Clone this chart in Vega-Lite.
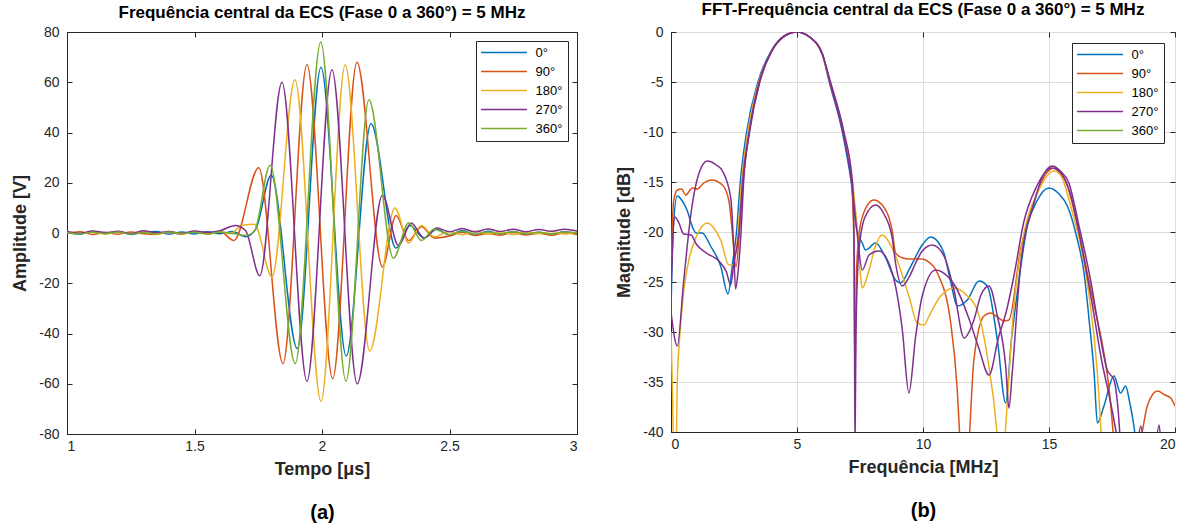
{
"$schema":"https://vega.github.io/schema/vega-lite/v6.json",
"background":"white",
"padding":{"left":11,"top":0,"right":10,"bottom":4},
"spacing":37,
"config":{
 "font":"Liberation Sans",
 "view":{"stroke":"#262626","strokeWidth":1},
 "axis":{"domainColor":"#262626","tickColor":"#262626","labelColor":"#262626","titleColor":"#262626","labelFontSize":14,"titleFontSize":18,"titleFontWeight":"bold","grid":false,"tickSize":-5,"labelPadding":13,"titlePadding":9,"domainWidth":1},
 "axisX":{"labelPadding":10,"titlePadding":7},
 "title":{"fontSize":17,"fontWeight":"bold","color":"#000000"},
 "legend":{"fillColor":"white","strokeColor":"#262626","padding":5,"symbolType":"M-4,0H4","symbolSize":132,"symbolOffset":16.5,"symbolStrokeWidth":1.5,"labelFontSize":13,"labelOffset":25,"labelAlign":"left","rowPadding":5,"labelColor":"#000000","orient":"top-right"}
},
"resolve":{"scale":{"color":"independent"},"legend":{"color":"independent"}},
"datasets":{
"a":[
{"s":"0°","t":1,"v":0.4},{"s":"0°","t":1.05,"v":-0.5},{"s":"0°","t":1.1,"v":0.6},{"s":"0°","t":1.15,"v":-0.3},{"s":"0°","t":1.2,"v":0.5},{"s":"0°","t":1.25,"v":-0.6},{"s":"0°","t":1.3,"v":0.3},{"s":"0°","t":1.35,"v":0.6},{"s":"0°","t":1.4,"v":-0.5},{"s":"0°","t":1.45,"v":0.4},{"s":"0°","t":1.5,"v":-0.4},{"s":"0°","t":1.55,"v":0.5},{"s":"0°","t":1.6,"v":-0.3},{"s":"0°","t":1.65,"v":0.6},{"s":"0°","t":1.7,"v":-1.5},{"s":"0°","t":1.74,"v":1.5},{"s":"0°","t":1.801,"v":23},{"s":"0°","t":1.903,"v":-46},{"s":"0°","t":1.996,"v":66},{"s":"0°","t":2.095,"v":-49},{"s":"0°","t":2.192,"v":43.5},{"s":"0°","t":2.29,"v":-6},{"s":"0°","t":2.345,"v":3},{"s":"0°","t":2.4,"v":-2},{"s":"0°","t":2.45,"v":1.5},{"s":"0°","t":2.5,"v":-0.8},{"s":"0°","t":2.55,"v":1},{"s":"0°","t":2.6,"v":-0.6},{"s":"0°","t":2.65,"v":0.7},{"s":"0°","t":2.7,"v":-0.4},{"s":"0°","t":2.75,"v":0.6},{"s":"0°","t":2.8,"v":-0.5},{"s":"0°","t":2.85,"v":0.3},{"s":"0°","t":2.9,"v":-0.4},{"s":"0°","t":2.95,"v":0.5},{"s":"0°","t":3,"v":-0.2},
{"s":"90°","t":1,"v":-0.3},{"s":"90°","t":1.05,"v":0.5},{"s":"90°","t":1.1,"v":-0.6},{"s":"90°","t":1.15,"v":0.2},{"s":"90°","t":1.2,"v":-0.5},{"s":"90°","t":1.25,"v":0.4},{"s":"90°","t":1.3,"v":-0.3},{"s":"90°","t":1.35,"v":-0.6},{"s":"90°","t":1.4,"v":0.3},{"s":"90°","t":1.45,"v":-0.5},{"s":"90°","t":1.5,"v":0.6},{"s":"90°","t":1.55,"v":-0.3},{"s":"90°","t":1.6,"v":0.5},{"s":"90°","t":1.655,"v":-3},{"s":"90°","t":1.752,"v":26},{"s":"90°","t":1.847,"v":-52},{"s":"90°","t":1.941,"v":67},{"s":"90°","t":2.042,"v":-58},{"s":"90°","t":2.137,"v":68},{"s":"90°","t":2.237,"v":-13.5},{"s":"90°","t":2.29,"v":7},{"s":"90°","t":2.34,"v":-3},{"s":"90°","t":2.39,"v":2.5},{"s":"90°","t":2.44,"v":-2},{"s":"90°","t":2.5,"v":-1.2},{"s":"90°","t":2.55,"v":0.3},{"s":"90°","t":2.6,"v":-1},{"s":"90°","t":2.65,"v":-0.2},{"s":"90°","t":2.7,"v":-0.9},{"s":"90°","t":2.75,"v":0.2},{"s":"90°","t":2.8,"v":-0.8},{"s":"90°","t":2.85,"v":-0.1},{"s":"90°","t":2.9,"v":-0.9},{"s":"90°","t":2.95,"v":0.1},{"s":"90°","t":3,"v":-0.6},
{"s":"180°","t":1,"v":0.5},{"s":"180°","t":1.05,"v":-0.2},{"s":"180°","t":1.1,"v":0.4},{"s":"180°","t":1.15,"v":-0.5},{"s":"180°","t":1.2,"v":0.6},{"s":"180°","t":1.25,"v":-0.1},{"s":"180°","t":1.3,"v":0.5},{"s":"180°","t":1.35,"v":-0.4},{"s":"180°","t":1.4,"v":0.6},{"s":"180°","t":1.45,"v":-0.3},{"s":"180°","t":1.5,"v":0.4},{"s":"180°","t":1.55,"v":-0.5},{"s":"180°","t":1.6,"v":0.5},{"s":"180°","t":1.64,"v":-0.3},{"s":"180°","t":1.686,"v":3},{"s":"180°","t":1.735,"v":3.5},{"s":"180°","t":1.804,"v":-17.5},{"s":"180°","t":1.894,"v":61},{"s":"180°","t":1.996,"v":-67},{"s":"180°","t":2.091,"v":67},{"s":"180°","t":2.187,"v":-47},{"s":"180°","t":2.286,"v":10},{"s":"180°","t":2.34,"v":-4},{"s":"180°","t":2.39,"v":3},{"s":"180°","t":2.44,"v":-1.5},{"s":"180°","t":2.5,"v":0.6},{"s":"180°","t":2.55,"v":-0.7},{"s":"180°","t":2.6,"v":0.8},{"s":"180°","t":2.65,"v":-0.4},{"s":"180°","t":2.7,"v":0.5},{"s":"180°","t":2.75,"v":-0.6},{"s":"180°","t":2.8,"v":0.4},{"s":"180°","t":2.85,"v":-0.3},{"s":"180°","t":2.9,"v":0.6},{"s":"180°","t":2.95,"v":-0.4},{"s":"180°","t":3,"v":0.3},
{"s":"270°","t":1,"v":0.6},{"s":"270°","t":1.05,"v":-0.1},{"s":"270°","t":1.1,"v":0.8},{"s":"270°","t":1.15,"v":0.2},{"s":"270°","t":1.2,"v":0.7},{"s":"270°","t":1.25,"v":-0.2},{"s":"270°","t":1.3,"v":0.9},{"s":"270°","t":1.35,"v":0.1},{"s":"270°","t":1.4,"v":0.6},{"s":"270°","t":1.45,"v":-0.1},{"s":"270°","t":1.5,"v":0.8},{"s":"270°","t":1.55,"v":0.2},{"s":"270°","t":1.6,"v":0.9},{"s":"270°","t":1.66,"v":3},{"s":"270°","t":1.7,"v":1},{"s":"270°","t":1.756,"v":-17},{"s":"270°","t":1.843,"v":60},{"s":"270°","t":1.941,"v":-59},{"s":"270°","t":2.039,"v":65},{"s":"270°","t":2.138,"v":-60},{"s":"270°","t":2.237,"v":15},{"s":"270°","t":2.3,"v":-5},{"s":"270°","t":2.35,"v":4},{"s":"270°","t":2.4,"v":-2},{"s":"270°","t":2.45,"v":2},{"s":"270°","t":2.5,"v":0.5},{"s":"270°","t":2.55,"v":1.8},{"s":"270°","t":2.6,"v":0.4},{"s":"270°","t":2.65,"v":1.6},{"s":"270°","t":2.7,"v":0.6},{"s":"270°","t":2.75,"v":1.5},{"s":"270°","t":2.8,"v":0.5},{"s":"270°","t":2.85,"v":1.4},{"s":"270°","t":2.9,"v":0.7},{"s":"270°","t":2.95,"v":1.5},{"s":"270°","t":3,"v":0.8},
{"s":"360°","t":1,"v":0.2},{"s":"360°","t":1.05,"v":-0.4},{"s":"360°","t":1.1,"v":0.3},{"s":"360°","t":1.15,"v":-0.2},{"s":"360°","t":1.2,"v":0.4},{"s":"360°","t":1.25,"v":-0.5},{"s":"360°","t":1.3,"v":0.2},{"s":"360°","t":1.35,"v":-0.3},{"s":"360°","t":1.4,"v":0.4},{"s":"360°","t":1.45,"v":-0.2},{"s":"360°","t":1.5,"v":0.3},{"s":"360°","t":1.55,"v":-0.4},{"s":"360°","t":1.6,"v":0.4},{"s":"360°","t":1.65,"v":-0.2},{"s":"360°","t":1.7,"v":-1},{"s":"360°","t":1.735,"v":0.8},{"s":"360°","t":1.797,"v":27},{"s":"360°","t":1.895,"v":-52},{"s":"360°","t":1.995,"v":76},{"s":"360°","t":2.094,"v":-59},{"s":"360°","t":2.184,"v":53},{"s":"360°","t":2.28,"v":-10},{"s":"360°","t":2.34,"v":4},{"s":"360°","t":2.39,"v":-3},{"s":"360°","t":2.44,"v":1.5},{"s":"360°","t":2.5,"v":-0.6},{"s":"360°","t":2.55,"v":0.7},{"s":"360°","t":2.6,"v":-0.5},{"s":"360°","t":2.65,"v":0.4},{"s":"360°","t":2.7,"v":-0.3},{"s":"360°","t":2.75,"v":0.5},{"s":"360°","t":2.8,"v":-0.4},{"s":"360°","t":2.85,"v":0.3},{"s":"360°","t":2.9,"v":-0.5},{"s":"360°","t":2.95,"v":0.4},{"s":"360°","t":3,"v":0}
],
"b":[
{"s":"0°","k":"a","f":0,"d":-28},{"s":"0°","k":"a","f":0.08,"d":-20},{"s":"0°","k":"a","f":0.25,"d":-16.4},{"s":"0°","k":"a","f":0.45,"d":-16.9},{"s":"0°","k":"a","f":0.65,"d":-17.9},{"s":"0°","k":"a","f":0.85,"d":-19.5},{"s":"0°","k":"a","f":1,"d":-20.1},{"s":"0°","k":"a","f":1.24,"d":-20.1},{"s":"0°","k":"a","f":1.57,"d":-21.4},{"s":"0°","k":"a","f":1.97,"d":-23.4},{"s":"0°","k":"a","f":2.26,"d":-26.2},{"s":"0°","k":"a","f":2.45,"d":-23},{"s":"0°","k":"a","f":2.6,"d":-20},{"s":"0°","k":"a","f":2.75,"d":-15},{"s":"0°","k":"a","f":3,"d":-10},{"s":"0°","k":"a","f":3.45,"d":-5},{"s":"0°","k":"a","f":4,"d":-1.8},{"s":"0°","k":"a","f":4.5,"d":-0.4},{"s":"0°","k":"a","f":5,"d":0},{"s":"0°","k":"a","f":5.5,"d":-0.5},{"s":"0°","k":"a","f":6,"d":-2.2},{"s":"0°","k":"a","f":6.28,"d":-5},{"s":"0°","k":"a","f":6.8,"d":-10},{"s":"0°","k":"a","f":7.15,"d":-15},{"s":"0°","k":"a","f":7.38,"d":-19.8},{"s":"0°","k":"a","f":7.59,"d":-21.1},{"s":"0°","k":"a","f":7.72,"d":-21.8},{"s":"0°","k":"a","f":8.12,"d":-21.1},{"s":"0°","k":"a","f":8.5,"d":-22.5},{"s":"0°","k":"a","f":8.91,"d":-24.8},{"s":"0°","k":"a","f":9.11,"d":-25.1},{"s":"0°","k":"a","f":9.5,"d":-23.5},{"s":"0°","k":"a","f":9.97,"d":-21.3},{"s":"0°","k":"a","f":10.3,"d":-20.5},{"s":"0°","k":"a","f":10.6,"d":-21},{"s":"0°","k":"a","f":10.83,"d":-22.1},{"s":"0°","k":"a","f":11.1,"d":-25},{"s":"0°","k":"a","f":11.36,"d":-27.4},{"s":"0°","k":"a","f":11.76,"d":-26.8},{"s":"0°","k":"a","f":12.22,"d":-24.9},{"s":"0°","k":"a","f":12.55,"d":-25.4},{"s":"0°","k":"a","f":12.95,"d":-30.8},{"s":"0°","k":"a","f":13.28,"d":-37.1},{"s":"0°","k":"a","f":13.5,"d":-31},{"s":"0°","k":"a","f":13.74,"d":-26.1},{"s":"0°","k":"a","f":14.14,"d":-19.4},{"s":"0°","k":"a","f":14.5,"d":-17},{"s":"0°","k":"a","f":15,"d":-15.6},{"s":"0°","k":"a","f":15.4,"d":-16.2},{"s":"0°","k":"a","f":15.73,"d":-17.4},{"s":"0°","k":"a","f":16.1,"d":-20.5},{"s":"0°","k":"a","f":16.39,"d":-24.1},{"s":"0°","k":"a","f":16.6,"d":-29},{"s":"0°","k":"a","f":16.79,"d":-34.1},{"s":"0°","k":"a","f":16.92,"d":-39.1},{"s":"0°","k":"a","f":17.18,"d":-37.4},{"s":"0°","k":"a","f":17.58,"d":-34.4},{"s":"0°","k":"a","f":17.84,"d":-36.1},{"s":"0°","k":"a","f":18.04,"d":-35.4},{"s":"0°","k":"a","f":18.2,"d":-37},{"s":"0°","k":"a","f":18.37,"d":-39.4},{"s":"0°","k":"a","f":18.55,"d":-43},{"s":"0°","k":"a","f":18.8,"d":-41},{"s":"0°","k":"a","f":19,"d":-40.5},{"s":"0°","k":"a","f":19.2,"d":-44},{"s":"0°","k":"a","f":20,"d":-46},
{"s":"90°","k":"a","f":0,"d":-24},{"s":"90°","k":"a","f":0.1,"d":-17},{"s":"90°","k":"a","f":0.25,"d":-15.8},{"s":"90°","k":"a","f":0.42,"d":-15.7},{"s":"90°","k":"a","f":0.58,"d":-16.3},{"s":"90°","k":"a","f":0.85,"d":-15.6},{"s":"90°","k":"a","f":1.04,"d":-15.7},{"s":"90°","k":"a","f":1.3,"d":-15.1},{"s":"90°","k":"a","f":1.61,"d":-14.8},{"s":"90°","k":"a","f":2.04,"d":-15.3},{"s":"90°","k":"a","f":2.3,"d":-16.9},{"s":"90°","k":"a","f":2.45,"d":-20.5},{"s":"90°","k":"a","f":2.58,"d":-23.5},{"s":"90°","k":"a","f":2.74,"d":-19},{"s":"90°","k":"a","f":2.86,"d":-15},{"s":"90°","k":"a","f":3.1,"d":-10},{"s":"90°","k":"a","f":3.52,"d":-5},{"s":"90°","k":"a","f":4,"d":-1.9},{"s":"90°","k":"a","f":4.5,"d":-0.4},{"s":"90°","k":"a","f":5,"d":0},{"s":"90°","k":"a","f":5.5,"d":-0.5},{"s":"90°","k":"a","f":6,"d":-2.2},{"s":"90°","k":"a","f":6.3,"d":-5},{"s":"90°","k":"a","f":6.85,"d":-10},{"s":"90°","k":"a","f":7.15,"d":-14.5},{"s":"90°","k":"a","f":7.25,"d":-20},{"s":"90°","k":"a","f":7.3,"d":-34.6},{"s":"90°","k":"a","f":7.36,"d":-24},{"s":"90°","k":"a","f":7.5,"d":-19.5},{"s":"90°","k":"a","f":7.8,"d":-17.3},{"s":"90°","k":"a","f":8.05,"d":-16.8},{"s":"90°","k":"a","f":8.38,"d":-17.3},{"s":"90°","k":"a","f":8.78,"d":-19.9},{"s":"90°","k":"a","f":8.91,"d":-22.1},{"s":"90°","k":"a","f":9.2,"d":-22.6},{"s":"90°","k":"a","f":9.44,"d":-22.7},{"s":"90°","k":"a","f":9.97,"d":-22.7},{"s":"90°","k":"a","f":10.17,"d":-22.9},{"s":"90°","k":"a","f":10.57,"d":-24.1},{"s":"90°","k":"a","f":11.1,"d":-29.1},{"s":"90°","k":"a","f":11.36,"d":-35.8},{"s":"90°","k":"a","f":11.47,"d":-41},{"s":"90°","k":"a","f":11.65,"d":-48},{"s":"90°","k":"a","f":11.83,"d":-41},{"s":"90°","k":"a","f":12.02,"d":-32.8},{"s":"90°","k":"a","f":12.42,"d":-28.4},{"s":"90°","k":"a","f":12.68,"d":-28.1},{"s":"90°","k":"a","f":13,"d":-28.6},{"s":"90°","k":"a","f":13.21,"d":-28.9},{"s":"90°","k":"a","f":13.41,"d":-28.8},{"s":"90°","k":"a","f":13.87,"d":-21.8},{"s":"90°","k":"a","f":14.4,"d":-17.1},{"s":"90°","k":"a","f":14.8,"d":-14.5},{"s":"90°","k":"a","f":15.2,"d":-13.6},{"s":"90°","k":"a","f":15.5,"d":-14.2},{"s":"90°","k":"a","f":15.73,"d":-15.4},{"s":"90°","k":"a","f":16.1,"d":-19},{"s":"90°","k":"a","f":16.52,"d":-24.1},{"s":"90°","k":"a","f":16.85,"d":-28},{"s":"90°","k":"a","f":17.18,"d":-32.1},{"s":"90°","k":"a","f":17.4,"d":-36},{"s":"90°","k":"a","f":17.58,"d":-41},{"s":"90°","k":"a","f":17.9,"d":-48},{"s":"90°","k":"a","f":18.4,"d":-44},{"s":"90°","k":"a","f":18.7,"d":-40},{"s":"90°","k":"a","f":18.9,"d":-37.4},{"s":"90°","k":"a","f":19.3,"d":-35.9},{"s":"90°","k":"a","f":19.6,"d":-36.3},{"s":"90°","k":"a","f":19.83,"d":-36.6},{"s":"90°","k":"a","f":20,"d":-37.4},
{"s":"180°","k":"a","f":0,"d":-30},{"s":"180°","k":"a","f":0.06,"d":-36},{"s":"180°","k":"a","f":0.12,"d":-44},{"s":"180°","k":"a","f":0.2,"d":-42},{"s":"180°","k":"a","f":0.25,"d":-35},{"s":"180°","k":"a","f":0.32,"d":-31.4},{"s":"180°","k":"a","f":0.5,"d":-26},{"s":"180°","k":"a","f":0.71,"d":-22.8},{"s":"180°","k":"a","f":1,"d":-20.5},{"s":"180°","k":"a","f":1.44,"d":-19.1},{"s":"180°","k":"a","f":1.7,"d":-19.6},{"s":"180°","k":"a","f":1.97,"d":-20.8},{"s":"180°","k":"a","f":2.3,"d":-23.3},{"s":"180°","k":"a","f":2.48,"d":-23.3},{"s":"180°","k":"a","f":2.66,"d":-20},{"s":"180°","k":"a","f":2.8,"d":-15},{"s":"180°","k":"a","f":3.05,"d":-10},{"s":"180°","k":"a","f":3.48,"d":-5},{"s":"180°","k":"a","f":4,"d":-1.9},{"s":"180°","k":"a","f":4.5,"d":-0.4},{"s":"180°","k":"a","f":5,"d":0},{"s":"180°","k":"a","f":5.5,"d":-0.5},{"s":"180°","k":"a","f":6,"d":-2.2},{"s":"180°","k":"a","f":6.3,"d":-5},{"s":"180°","k":"a","f":6.84,"d":-10},{"s":"180°","k":"a","f":7.2,"d":-15},{"s":"180°","k":"a","f":7.4,"d":-20},{"s":"180°","k":"a","f":7.52,"d":-24.4},{"s":"180°","k":"a","f":7.59,"d":-25.6},{"s":"180°","k":"a","f":7.86,"d":-23.8},{"s":"180°","k":"a","f":8.1,"d":-21.5},{"s":"180°","k":"a","f":8.38,"d":-20.3},{"s":"180°","k":"a","f":8.65,"d":-21},{"s":"180°","k":"a","f":8.91,"d":-22.4},{"s":"180°","k":"a","f":9.44,"d":-26.4},{"s":"180°","k":"a","f":9.77,"d":-29.1},{"s":"180°","k":"a","f":10.04,"d":-29.3},{"s":"180°","k":"a","f":10.24,"d":-28.4},{"s":"180°","k":"a","f":10.7,"d":-26.4},{"s":"180°","k":"a","f":11.23,"d":-25.6},{"s":"180°","k":"a","f":11.76,"d":-26.4},{"s":"180°","k":"a","f":12.15,"d":-27.8},{"s":"180°","k":"a","f":12.55,"d":-32.4},{"s":"180°","k":"a","f":12.95,"d":-40.5},{"s":"180°","k":"a","f":13.1,"d":-46},{"s":"180°","k":"a","f":13.24,"d":-41},{"s":"180°","k":"a","f":13.61,"d":-27.4},{"s":"180°","k":"a","f":14.01,"d":-20.1},{"s":"180°","k":"a","f":14.54,"d":-16.1},{"s":"180°","k":"a","f":15.22,"d":-13.9},{"s":"180°","k":"a","f":15.5,"d":-14.5},{"s":"180°","k":"a","f":15.86,"d":-17.4},{"s":"180°","k":"a","f":16.52,"d":-25.1},{"s":"180°","k":"a","f":16.92,"d":-34.1},{"s":"180°","k":"a","f":17.08,"d":-40.5},{"s":"180°","k":"a","f":17.3,"d":-47},{"s":"180°","k":"a","f":20,"d":-48},
{"s":"270°","k":"a","f":0,"d":-28},{"s":"270°","k":"a","f":0.25,"d":-31.4},{"s":"270°","k":"a","f":0.5,"d":-25},{"s":"270°","k":"a","f":0.8,"d":-18},{"s":"270°","k":"a","f":1.1,"d":-14.2},{"s":"270°","k":"a","f":1.44,"d":-12.9},{"s":"270°","k":"a","f":1.8,"d":-13.3},{"s":"270°","k":"a","f":2.04,"d":-13.9},{"s":"270°","k":"a","f":2.37,"d":-16.6},{"s":"270°","k":"a","f":2.48,"d":-21},{"s":"270°","k":"a","f":2.56,"d":-25.7},{"s":"270°","k":"a","f":2.66,"d":-24},{"s":"270°","k":"a","f":2.78,"d":-20},{"s":"270°","k":"a","f":2.88,"d":-15},{"s":"270°","k":"a","f":3.12,"d":-10},{"s":"270°","k":"a","f":3.52,"d":-5},{"s":"270°","k":"a","f":4,"d":-1.9},{"s":"270°","k":"a","f":4.5,"d":-0.4},{"s":"270°","k":"a","f":5,"d":0},{"s":"270°","k":"a","f":5.5,"d":-0.5},{"s":"270°","k":"a","f":6,"d":-2.2},{"s":"270°","k":"a","f":6.33,"d":-5},{"s":"270°","k":"a","f":6.86,"d":-10},{"s":"270°","k":"a","f":7.2,"d":-15},{"s":"270°","k":"a","f":7.27,"d":-22},{"s":"270°","k":"a","f":7.3,"d":-42},{"s":"270°","k":"a","f":7.34,"d":-30},{"s":"270°","k":"a","f":7.45,"d":-22},{"s":"270°","k":"a","f":7.7,"d":-18.5},{"s":"270°","k":"a","f":8.12,"d":-17.3},{"s":"270°","k":"a","f":8.45,"d":-18.2},{"s":"270°","k":"a","f":8.78,"d":-20.6},{"s":"270°","k":"a","f":8.91,"d":-23.1},{"s":"270°","k":"a","f":9.18,"d":-25.4},{"s":"270°","k":"a","f":9.45,"d":-24.5},{"s":"270°","k":"a","f":9.71,"d":-23.1},{"s":"270°","k":"a","f":9.97,"d":-21.9},{"s":"270°","k":"a","f":10.37,"d":-21.3},{"s":"270°","k":"a","f":10.83,"d":-22.4},{"s":"270°","k":"a","f":11.23,"d":-25.8},{"s":"270°","k":"a","f":11.63,"d":-30.6},{"s":"270°","k":"a","f":12.02,"d":-28.8},{"s":"270°","k":"a","f":12.3,"d":-26.3},{"s":"270°","k":"a","f":12.62,"d":-25.4},{"s":"270°","k":"a","f":12.95,"d":-28.4},{"s":"270°","k":"a","f":13.28,"d":-33.4},{"s":"270°","k":"a","f":13.41,"d":-37.6},{"s":"270°","k":"a","f":13.54,"d":-34.1},{"s":"270°","k":"a","f":13.87,"d":-23.4},{"s":"270°","k":"a","f":14.4,"d":-17.1},{"s":"270°","k":"a","f":14.8,"d":-14.2},{"s":"270°","k":"a","f":15.13,"d":-13.4},{"s":"270°","k":"a","f":15.45,"d":-13.9},{"s":"270°","k":"a","f":15.79,"d":-15.1},{"s":"270°","k":"a","f":16.2,"d":-19.5},{"s":"270°","k":"a","f":16.65,"d":-24.8},{"s":"270°","k":"a","f":17,"d":-30},{"s":"270°","k":"a","f":17.31,"d":-33.8},{"s":"270°","k":"a","f":17.58,"d":-34.8},{"s":"270°","k":"a","f":17.75,"d":-38},{"s":"270°","k":"a","f":17.84,"d":-41},{"s":"270°","k":"a","f":18.2,"d":-45},{"s":"270°","k":"a","f":18.5,"d":-41.5},{"s":"270°","k":"a","f":18.64,"d":-39.4},{"s":"270°","k":"a","f":18.8,"d":-42},{"s":"270°","k":"a","f":19.1,"d":-44},{"s":"270°","k":"a","f":19.37,"d":-39.3},{"s":"270°","k":"a","f":19.5,"d":-43},{"s":"270°","k":"a","f":20,"d":-46},
{"s":"270°","k":"b","f":0,"d":-26},{"s":"270°","k":"b","f":0.15,"d":-18.5},{"s":"270°","k":"b","f":0.3,"d":-19},{"s":"270°","k":"b","f":0.5,"d":-20.2},{"s":"270°","k":"b","f":0.8,"d":-20.3},{"s":"270°","k":"b","f":1,"d":-21.2},{"s":"270°","k":"b","f":1.4,"d":-22.1},{"s":"270°","k":"b","f":1.9,"d":-22.9},{"s":"270°","k":"b","f":2.2,"d":-24},{"s":"270°","k":"b","f":2.37,"d":-25.3},{"s":"270°","k":"b","f":2.5,"d":-23},{"s":"270°","k":"b","f":2.7,"d":-20},{"s":"270°","k":"b","f":2.84,"d":-15},{"s":"270°","k":"b","f":3.1,"d":-10},{"s":"270°","k":"b","f":3.5,"d":-5},{"s":"270°","k":"b","f":4,"d":-1.9},{"s":"270°","k":"b","f":4.5,"d":-0.4},{"s":"270°","k":"b","f":5,"d":0},{"s":"270°","k":"b","f":5.5,"d":-0.5},{"s":"270°","k":"b","f":6,"d":-2.1},{"s":"270°","k":"b","f":6.3,"d":-5},{"s":"270°","k":"b","f":6.82,"d":-10},{"s":"270°","k":"b","f":7.17,"d":-15},{"s":"270°","k":"b","f":7.38,"d":-20},{"s":"270°","k":"b","f":7.59,"d":-23.8},{"s":"270°","k":"b","f":7.86,"d":-22.3},{"s":"270°","k":"b","f":8.25,"d":-21.9},{"s":"270°","k":"b","f":8.78,"d":-24.1},{"s":"270°","k":"b","f":9.18,"d":-29.8},{"s":"270°","k":"b","f":9.44,"d":-36.1},{"s":"270°","k":"b","f":9.71,"d":-30.4},{"s":"270°","k":"b","f":9.97,"d":-26.4},{"s":"270°","k":"b","f":10.5,"d":-23.8},{"s":"270°","k":"b","f":10.96,"d":-24.4},{"s":"270°","k":"b","f":11.3,"d":-25.5},{"s":"270°","k":"b","f":11.8,"d":-28.5},{"s":"270°","k":"b","f":12.2,"d":-31.5},{"s":"270°","k":"b","f":12.62,"d":-34.3},{"s":"270°","k":"b","f":13,"d":-30.5},{"s":"270°","k":"b","f":13.3,"d":-28},{"s":"270°","k":"b","f":13.6,"d":-24.5},{"s":"270°","k":"b","f":14,"d":-19},{"s":"270°","k":"b","f":14.5,"d":-15.5},{"s":"270°","k":"b","f":15.1,"d":-13.6},{"s":"270°","k":"b","f":15.5,"d":-14.2},{"s":"270°","k":"b","f":15.85,"d":-16.2},{"s":"270°","k":"b","f":16.3,"d":-21.5},{"s":"270°","k":"b","f":16.7,"d":-27},{"s":"270°","k":"b","f":17.1,"d":-33},{"s":"270°","k":"b","f":17.4,"d":-36.5},{"s":"270°","k":"b","f":17.7,"d":-40.5},{"s":"270°","k":"b","f":18,"d":-45},{"s":"270°","k":"b","f":20,"d":-46}
]
},
"hconcat":[
{
 "width":510,"height":402,
 "data":{"name":"a"},
 "title":{"text":"Frequência central da ECS (Fase 0 a 360°) = 5 MHz","offset":3},
 "layer":[
  {"mark":{"type":"line","strokeWidth":1.5,"interpolate":"monotone","clip":true},
   "encoding":{
    "x":{"field":"t","type":"quantitative","scale":{"domain":[1,3],"nice":false,"zero":false},"axis":{"title":"Tempo [μs]","values":[1,1.5,2,2.5,3],"labelExpr":"''+datum.value"}},
    "y":{"field":"v","type":"quantitative","scale":{"domain":[-80,80],"nice":false,"zero":false},"axis":{"title":"Amplitude [V]","values":[-80,-60,-40,-20,0,20,40,60,80],"labelExpr":"''+datum.value"}},
    "color":{"field":"s","type":"nominal","sort":null,"scale":{"domain":["0°","90°","180°","270°","360°"],"range":["#0072BD","#D95319","#EDB120","#7E2F8E","#77AC30"]},"legend":{"title":null,"offset":9}}
   }},
  {"mark":{"type":"line","opacity":0},
   "encoding":{
    "x":{"field":"t","type":"quantitative","scale":{"domain":[1,3],"nice":false,"zero":false},"axis":{"orient":"bottom","title":"(a)","labels":false,"ticks":false,"domain":false,"titleFontSize":20,"titlePadding":68,"titleColor":"#000000"}},
    "y":{"field":"v","type":"quantitative","scale":{"domain":[-80,80],"nice":false,"zero":false},"axis":{"orient":"right","title":null,"labels":false,"domain":false,"values":[-80,-60,-40,-20,0,20,40,60,80]}}
   }},
  {"mark":{"type":"line","opacity":0},
   "encoding":{
    "x":{"field":"t","type":"quantitative","scale":{"domain":[1,3],"nice":false,"zero":false},"axis":{"orient":"top","title":null,"labels":false,"domain":false,"values":[1,1.5,2,2.5,3]}},
    "y":{"field":"v","type":"quantitative","scale":{"domain":[-80,80],"nice":false,"zero":false},"axis":null}
   }}
 ],
 "resolve":{"axis":{"x":"independent","y":"independent"}}
},
{
 "width":504,"height":400,
 "data":{"name":"b"},
 "title":{"text":"FFT-Frequência central da ECS (Fase 0 a 360°) = 5 MHz","offset":6},
 "layer":[
  {"mark":{"type":"line","strokeWidth":1.5,"interpolate":"monotone","clip":true},
   "encoding":{
    "x":{"field":"f","type":"quantitative","scale":{"domain":[0,20],"nice":false,"zero":false},"axis":{"title":"Frequência [MHz]","values":[0,5,10,15,20],"grid":true,"gridColor":"#dedede","labelExpr":"''+datum.value"}},
    "y":{"field":"d","type":"quantitative","scale":{"domain":[-40,0],"nice":false,"zero":false},"axis":{"title":"Magnitude [dB]","values":[-40,-35,-30,-25,-20,-15,-10,-5,0],"grid":true,"gridColor":"#dedede","labelExpr":"''+datum.value"}},
    "color":{"field":"s","type":"nominal","sort":null,"scale":{"domain":["0°","90°","180°","270°","360°"],"range":["#0072BD","#D95319","#EDB120","#7E2F8E","#77AC30"]},"legend":{"title":null,"offset":11}},
    "detail":{"field":"k"}
   }},
  {"mark":{"type":"line","opacity":0},
   "encoding":{
    "x":{"field":"f","type":"quantitative","scale":{"domain":[0,20],"nice":false,"zero":false},"axis":{"orient":"bottom","title":"(b)","labels":false,"ticks":false,"domain":false,"titleFontSize":20,"titlePadding":68,"titleColor":"#000000"}},
    "y":{"field":"d","type":"quantitative","scale":{"domain":[-40,0],"nice":false,"zero":false},"axis":{"orient":"right","title":null,"labels":false,"domain":false,"values":[-40,-35,-30,-25,-20,-15,-10,-5,0]}}
   }},
  {"mark":{"type":"line","opacity":0},
   "encoding":{
    "x":{"field":"f","type":"quantitative","scale":{"domain":[0,20],"nice":false,"zero":false},"axis":{"orient":"top","title":null,"labels":false,"domain":false,"values":[0,5,10,15,20]}},
    "y":{"field":"d","type":"quantitative","scale":{"domain":[-40,0],"nice":false,"zero":false},"axis":null}
   }}
 ],
 "resolve":{"axis":{"x":"independent","y":"independent"}}
}
]
}
